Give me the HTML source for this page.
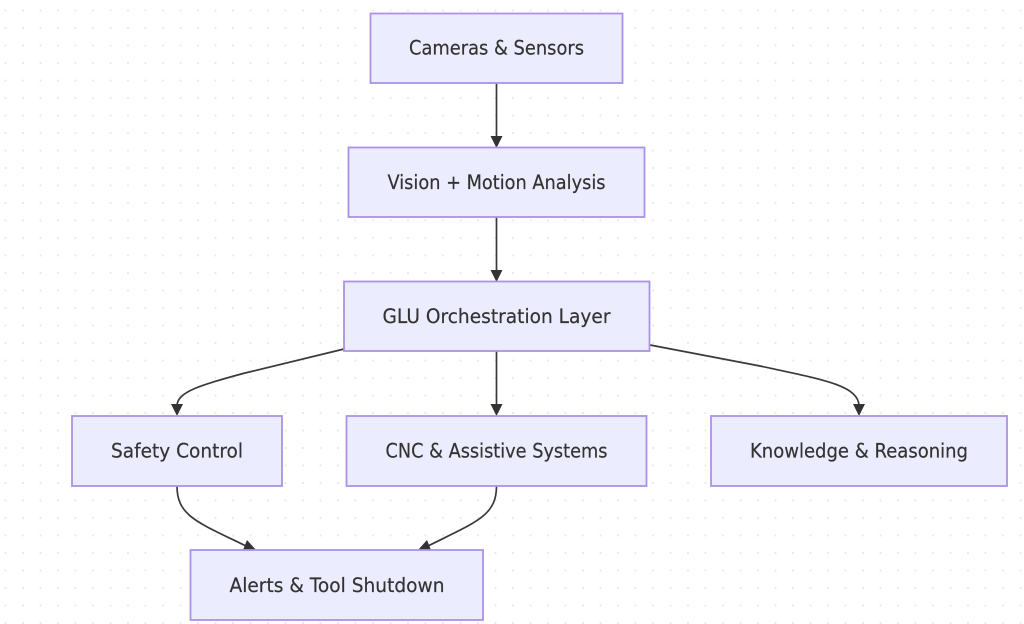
<!DOCTYPE html>
<html><head><meta charset="utf-8"><style>
html,body{margin:0;padding:0;background:#fff;width:1024px;height:624px;overflow:hidden}
svg{display:block}
text{font-family:"DejaVu Sans",sans-serif;font-size:19.5px;fill:#333;stroke:#333;stroke-width:.2;text-anchor:middle;dominant-baseline:central}
rect.n{fill:#ECECFF;stroke:#AD91E6;stroke-width:1.8}
path.e{fill:none;stroke:#3a3a3a;stroke-width:1.7}
path.a{fill:#333;stroke:none}
</style></head><body>
<svg width="1024" height="624" viewBox="0 0 1024 624" xmlns="http://www.w3.org/2000/svg">
<defs><pattern id="d" x="5.5" y="10.5" width="17.5" height="17.5" patternUnits="userSpaceOnUse"><circle cx="0" cy="0" r="1.1" fill="#e9e9e9"/><circle cx="17.5" cy="0" r="1.1" fill="#e9e9e9"/><circle cx="0" cy="17.5" r="1.1" fill="#e9e9e9"/><circle cx="17.5" cy="17.5" r="1.1" fill="#e9e9e9"/></pattern></defs>
<rect width="1024" height="624" fill="#fff"/>
<rect width="1024" height="624" fill="url(#d)"/>
<path class="e" d="M496.5 83V138"/>
<path class="e" d="M496.5 217V272"/>
<path class="e" d="M496.5 351V406"/>
<path class="e" d="M344 349L245 373C200 385 177 392 177 406"/>
<path class="e" d="M650 345L760 366C820 379 859 385 859 406"/>
<path class="e" d="M177 486C177 516 197 522 246 546"/>
<path class="e" d="M496.500 486C496.500 516 476 522 428 546"/>
<path class="a" d="M490.500 136H502.500L496.500 148Z"/>
<path class="a" d="M490.500 270H502.500L496.500 282Z"/>
<path class="a" d="M490.500 404H502.500L496.500 416Z"/>
<path class="a" d="M171 404H183L177 416Z"/>
<path class="a" d="M853 404H865L859 416Z"/>
<path class="a" d="M247 540L243 550H256Z"/>
<path class="a" d="M427 540L431 550H418Z"/>
<rect class="n" x="370.500" y="13.500" width="252" height="69.500"/>
<rect class="n" x="348.500" y="147.500" width="296" height="69.500"/>
<rect class="n" x="344" y="281.500" width="305.500" height="69.500"/>
<rect class="n" x="72" y="416" width="210" height="70"/>
<rect class="n" x="346.500" y="416" width="300" height="70"/>
<rect class="n" x="711" y="416" width="296" height="70"/>
<rect class="n" x="190.500" y="550" width="292.500" height="70"/>
<text x="496.500" y="48" textLength="175" lengthAdjust="spacingAndGlyphs">Cameras &amp; Sensors</text>
<text x="496.500" y="182.500" textLength="218" lengthAdjust="spacingAndGlyphs">Vision + Motion Analysis</text>
<text x="496.500" y="316.500" textLength="228" lengthAdjust="spacingAndGlyphs">GLU Orchestration Layer</text>
<text x="177" y="451" textLength="132" lengthAdjust="spacingAndGlyphs">Safety Control</text>
<text x="496.500" y="451" textLength="222" lengthAdjust="spacingAndGlyphs">CNC &amp; Assistive Systems</text>
<text x="859" y="451" textLength="218" lengthAdjust="spacingAndGlyphs">Knowledge &amp; Reasoning</text>
<text x="337" y="585.500" textLength="215" lengthAdjust="spacingAndGlyphs">Alerts &amp; Tool Shutdown</text>
</svg>
</body></html>
